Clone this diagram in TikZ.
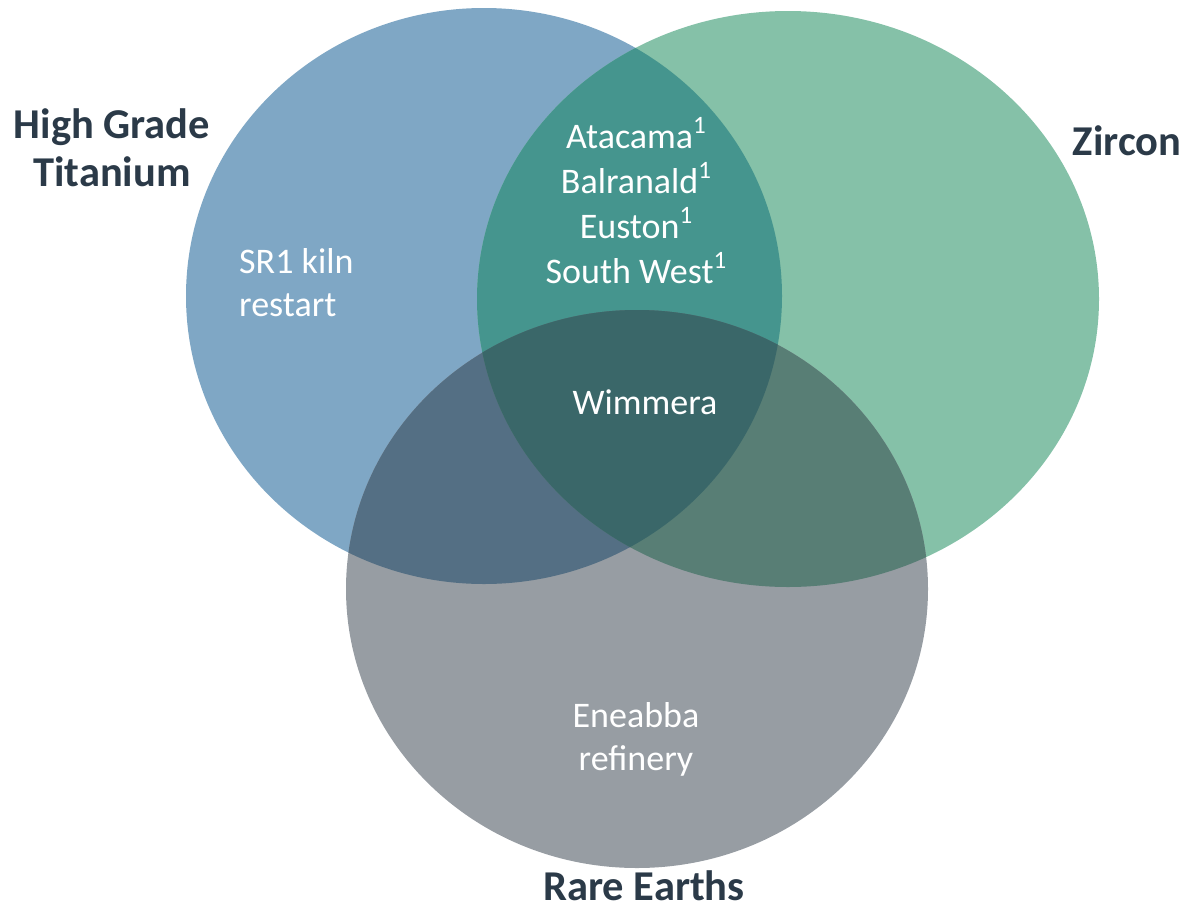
\documentclass[tikz,border=0pt]{standalone}
\usepackage{fontspec}
\setmainfont{Carlito}
\definecolor{cblue}{HTML}{7FA7C5}
\definecolor{cgreen}{HTML}{85C1A8}
\definecolor{cgray}{HTML}{979DA3}
\definecolor{cbg}{HTML}{45958E}
\definecolor{cbgr}{HTML}{546F84}
\definecolor{cggr}{HTML}{587E75}
\definecolor{call}{HTML}{3A6769}
\definecolor{clabel}{HTML}{2B3A48}
\tikzset{
  setlabel/.style={text=clabel, font=\fontsize{42.5}{48}\selectfont\bfseries, inner sep=0pt, anchor=base},
  inlabel/.style={text=white, font=\fontsize{36}{45}\selectfont, inner sep=0pt, anchor=base},
}
\newcommand{\blueshape}{(484,296) ellipse [x radius=298pt, y radius=288pt]}
\newcommand{\greenshape}{(788,299) ellipse [x radius=311pt, y radius=288pt]}
\newcommand{\grayshape}{(637,589) ellipse [x radius=291pt, y radius=279pt]}
\newcommand{\supone}{\raisebox{0.40em}{\fontsize{25}{25}\selectfont 1}}
\begin{document}
\begin{tikzpicture}[x=1pt,y=-1pt]
\useasboundingbox (0,0) rectangle (1186,911);
\fill[cblue] \blueshape;
\fill[cgreen] \greenshape;
\fill[cgray] \grayshape;
\begin{scope}\clip \blueshape; \fill[cbg] \greenshape; \end{scope}
\begin{scope}\clip \blueshape; \fill[cbgr] \grayshape; \end{scope}
\begin{scope}\clip \greenshape; \fill[cggr] \grayshape; \end{scope}
\begin{scope}\clip \blueshape; \clip \greenshape; \fill[call] \grayshape; \end{scope}
% set labels
\node[setlabel] (hg1) at (112,138) {High Grade};
\node[setlabel] (hg2) at (112,186) {Titanium};
\node[setlabel] (zr) at (1127,155) {Zircon};
\node[setlabel] (re) at (644,900) {Rare Earths};
% inner labels
\node[inlabel] (a1) at (636,148) {Atacama\supone};
\node[inlabel] (a2) at (636,193) {Balranald\supone};
\node[inlabel] (a3) at (636,238) {Euston\supone};
\node[inlabel] (a4) at (636,283) {South West\supone};
\node[inlabel] (wm) at (645,414) {Wimmera};
\node[inlabel, anchor=base west] (sr1) at (239,273) {SR1 kiln};
\node[inlabel, anchor=base west] (sr2) at (239,316) {restart};
\node[inlabel] (en1) at (636,727) {Eneabba};
\node[inlabel] (en2) at (636,770) {refinery};
\end{tikzpicture}
\end{document}
